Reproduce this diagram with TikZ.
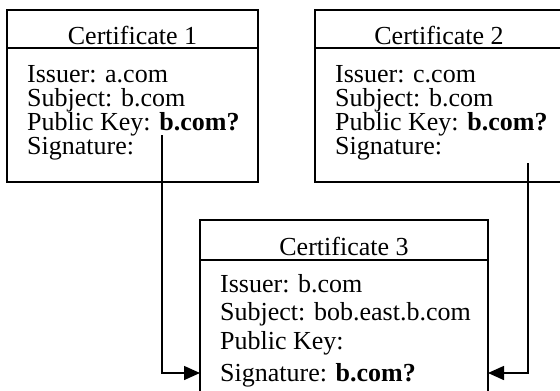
\documentclass[tikz,border=0pt]{standalone}
\usepackage{fontspec}
\setmainfont{Liberation Serif}
\usetikzlibrary{arrows.meta}
\begin{document}
\begin{tikzpicture}[x=1pt,y=-1pt,
  certbox/.style={draw,line width=2pt,anchor=north west,inner sep=0pt,outer sep=0pt},
  divider/.style={line width=1.4pt},
  certtext/.style={anchor=base west,inner sep=0pt,font=\fontsize{26}{24}\selectfont},
  certhead/.style={anchor=base,inner sep=0pt,font=\fontsize{26}{24}\selectfont},
  link/.style={line width=1.5pt,-{Triangle[length=16pt,width=14pt]}}]
\useasboundingbox (0,0) rectangle (560,391);

% Certificate 1
\node[certbox,minimum width=251pt,minimum height=172pt] (c1) at (7,10) {};
\draw[divider] (7,48) -- (258,48);
\node[certhead] (h1) at (132.5,44) {Certificate 1};
\node[certtext] (i1) at (27,82) {Issuer: a.com};
\node[certtext] (s1) at (27,106) {Subject: b.com};
\node[certtext] (k1) at (27,130) {Public Key: \textbf{b.com?}};
\node[certtext] (g1) at (27,154) {Signature:};

% Certificate 2
\node[certbox,minimum width=248pt,minimum height=172pt] (c2) at (315,10) {};
\draw[divider] (315,48) -- (563,48);
\node[certhead] (h2) at (439,44) {Certificate 2};
\node[certtext] (i2) at (335,82) {Issuer: c.com};
\node[certtext] (s2) at (335,106) {Subject: b.com};
\node[certtext] (k2) at (335,130) {Public Key: \textbf{b.com?}};
\node[certtext] (g2) at (335,154) {Signature:};

% Certificate 3
\node[certbox,minimum width=288pt,minimum height=176pt] (c3) at (200,220) {};
\draw[divider] (200,260) -- (488,260);
\node[certhead] (h3) at (344,255) {Certificate 3};
\node[certtext] (i3) at (220,292) {Issuer: b.com};
\node[certtext] (s3) at (220,320) {Subject: bob.east.b.com};
\node[certtext] (k3) at (220,349) {Public Key:};
\node[certtext] (g3) at (220,381) {Signature: \textbf{b.com?}};

% Signature links into certificate 3
\coordinate (a1) at (162,135);
\coordinate (b2) at (528,163);
\coordinate (a3) at (c3.west |- 0,373);
\coordinate (b3) at (c3.east |- 0,373);
\draw[link] (a1) |- (a3);
\draw[link] (b2) |- (b3);
\end{tikzpicture}
\end{document}
